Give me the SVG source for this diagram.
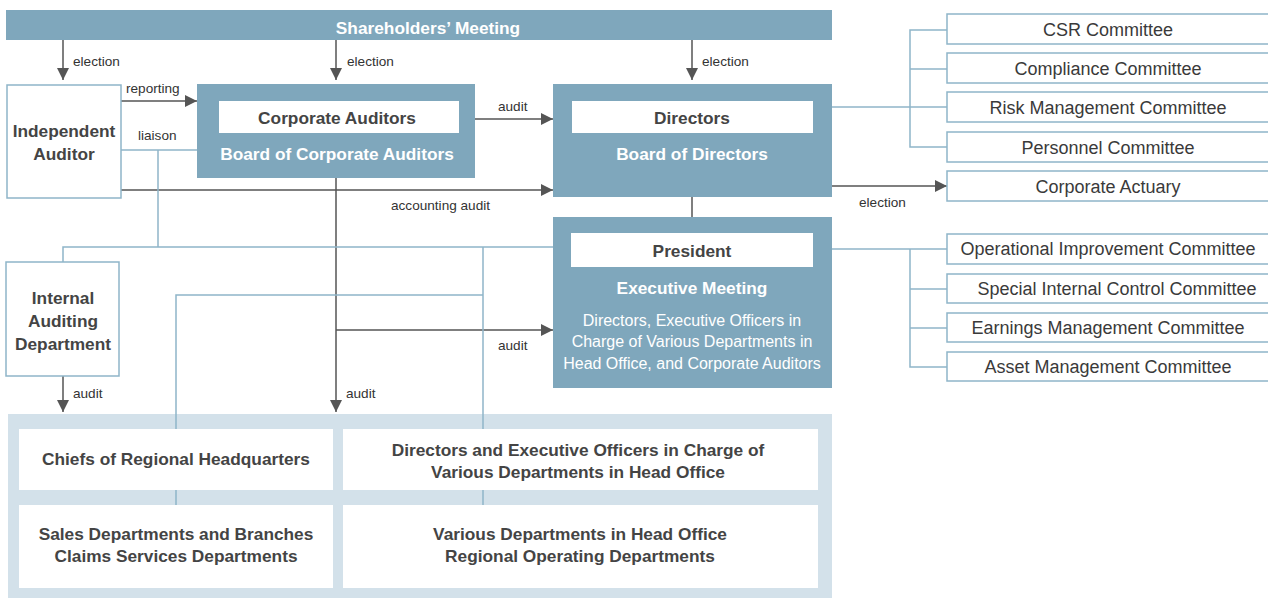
<svg xmlns="http://www.w3.org/2000/svg" width="1268" height="598" viewBox="0 0 1268 598">
<style>
.board{fill:#7fa7bc}
.inner{fill:#ffffff}
.obox{fill:#ffffff;stroke:#8fb5c9;stroke-width:1.5}
.panel{fill:#d3e1ea}
.wbox{fill:#ffffff}
.g{stroke:#555555;stroke-width:1.5;fill:none}
.b{stroke:#8fb5c9;stroke-width:1.5;fill:none}
text{font-family:"Liberation Sans",Arial,sans-serif}
.tw{fill:#ffffff;font-weight:bold;font-size:17.3px;text-anchor:middle}
.td{fill:#444444;font-weight:bold;font-size:17.3px;text-anchor:middle}
.ts{fill:#ffffff;font-size:16px;text-anchor:middle}
.tc{fill:#3a3a3a;font-size:18px;text-anchor:middle}
.tl{fill:#333333;font-size:13.6px}
</style>
<defs>
<marker id="ah" markerUnits="userSpaceOnUse" markerWidth="12" markerHeight="12" refX="12" refY="6" orient="auto" viewBox="0 0 12 12">
<path d="M0,0 L12,6 L0,12 z" fill="#555555"/>
</marker>
</defs>

<g id="shareholders">
<rect class="board" x="6" y="10" width="826" height="30"/>
<text class="tw" x="428" y="34">Shareholders’ Meeting</text>
</g>

<g id="bottom-panel">
<rect class="panel" x="8" y="414" width="824" height="184"/>
</g>

<g id="connectors">
<path class="g" d="M63,40 V80" marker-end="url(#ah)"/>
<path class="g" d="M336,40 V80" marker-end="url(#ah)"/>
<path class="g" d="M692,40 V80" marker-end="url(#ah)"/>
<path class="g" d="M121,101 H197" marker-end="url(#ah)"/>
<path class="g" d="M475,119 H553" marker-end="url(#ah)"/>
<path class="g" d="M121,190 H553" marker-end="url(#ah)"/>
<path class="g" d="M336,178 V412" marker-end="url(#ah)"/>
<path class="g" d="M336,330 H553" marker-end="url(#ah)"/>
<path class="g" d="M63,376 V412" marker-end="url(#ah)"/>
<path class="g" d="M692,197 V217"/>
<path class="g" d="M832,186 H947" marker-end="url(#ah)"/>
<path class="b" d="M121,150 H197"/>
<path class="b" d="M158,150 V247"/>
<path class="b" d="M63,262 V247 H553"/>
<path class="b" d="M483,247 V505"/>
<path class="b" d="M176,505 V295 H483"/>
<path class="b" d="M832,107 H947"/>
<path class="b" d="M947,30 H910 V147 H947"/>
<path class="b" d="M910,69 H947"/>
<path class="b" d="M832,249 H947"/>
<path class="b" d="M910,249 V367 H947"/>
<path class="b" d="M910,289 H947"/>
<path class="b" d="M910,328 H947"/>
<text class="tl" x="73" y="66">election</text>
<text class="tl" x="347" y="66">election</text>
<text class="tl" x="702" y="66">election</text>
<text class="tl" x="126" y="93">reporting</text>
<text class="tl" x="138" y="140">liaison</text>
<text class="tl" x="498" y="111">audit</text>
<text class="tl" x="391" y="210">accounting audit</text>
<text class="tl" x="498" y="350">audit</text>
<text class="tl" x="73" y="398">audit</text>
<text class="tl" x="346" y="398">audit</text>
<text class="tl" x="859" y="207">election</text>
</g>

<g id="independent-auditor">
<rect class="obox" x="7" y="85" width="114" height="113"/>
<text class="td" x="64" y="137">Independent</text>
<text class="td" x="64" y="160">Auditor</text>
</g>

<g id="corporate-auditors">
<rect class="board" x="197" y="84" width="278" height="94"/>
<rect class="inner" x="219" y="101" width="240" height="32"/>
<text class="td" x="337" y="124">Corporate Auditors</text>
<text class="tw" x="337" y="160">Board of Corporate Auditors</text>
</g>

<g id="directors">
<rect class="board" x="553" y="84" width="279" height="113"/>
<rect class="inner" x="572" y="101" width="241" height="32"/>
<text class="td" x="692" y="124">Directors</text>
<text class="tw" x="692" y="160">Board of Directors</text>
</g>

<g id="president">
<rect class="board" x="553" y="217" width="279" height="171"/>
<rect class="inner" x="571" y="233" width="242" height="34"/>
<text class="td" x="692" y="257">President</text>
<text class="tw" x="692" y="294">Executive Meeting</text>
<text class="ts" x="692" y="326">Directors, Executive Officers in</text>
<text class="ts" x="692" y="347">Charge of Various Departments in</text>
<text class="ts" x="692" y="369">Head Office, and Corporate Auditors</text>
</g>

<g id="internal-auditing">
<rect class="obox" x="6" y="262" width="113" height="114"/>
<text class="td" x="63" y="304">Internal</text>
<text class="td" x="63" y="327">Auditing</text>
<text class="td" x="63" y="350">Department</text>
</g>

<g id="chiefs-regional">
<rect class="wbox" x="19" y="429" width="314" height="61"/>
<text class="td" x="176" y="465">Chiefs of Regional Headquarters</text>
</g>
<g id="directors-exec-officers">
<rect class="wbox" x="343" y="429" width="475" height="61"/>
<text class="td" x="578" y="456">Directors and Executive Officers in Charge of</text>
<text class="td" x="578" y="478">Various Departments in Head Office</text>
</g>
<g id="sales-departments">
<rect class="wbox" x="19" y="505" width="314" height="83"/>
<text class="td" x="176" y="540">Sales Departments and Branches</text>
<text class="td" x="176" y="562">Claims Services Departments</text>
</g>
<g id="various-departments">
<rect class="wbox" x="343" y="505" width="475" height="83"/>
<text class="td" x="580" y="540">Various Departments in Head Office</text>
<text class="td" x="580" y="562">Regional Operating Departments</text>
</g>

<g id="csr-committee">
<rect class="obox" x="947" y="14" width="330" height="30"/>
<text class="tc" x="1108" y="36">CSR Committee</text>
</g>
<g id="compliance-committee">
<rect class="obox" x="947" y="53" width="330" height="30"/>
<text class="tc" x="1108" y="75">Compliance Committee</text>
</g>
<g id="risk-committee">
<rect class="obox" x="947" y="92" width="330" height="30"/>
<text class="tc" x="1108" y="114">Risk Management Committee</text>
</g>
<g id="personnel-committee">
<rect class="obox" x="947" y="132" width="330" height="30"/>
<text class="tc" x="1108" y="154">Personnel Committee</text>
</g>
<g id="corporate-actuary">
<rect class="obox" x="947" y="171" width="330" height="30"/>
<text class="tc" x="1108" y="193">Corporate Actuary</text>
</g>
<g id="operational-committee">
<rect class="obox" x="947" y="234" width="330" height="30"/>
<text class="tc" x="1108" y="255">Operational Improvement Committee</text>
</g>
<g id="special-control-committee">
<rect class="obox" x="947" y="274" width="330" height="29"/>
<text class="tc" x="1117" y="295">Special Internal Control Committee</text>
</g>
<g id="earnings-committee">
<rect class="obox" x="947" y="313" width="330" height="29"/>
<text class="tc" x="1108" y="334">Earnings Management Committee</text>
</g>
<g id="asset-committee">
<rect class="obox" x="947" y="352" width="330" height="29"/>
<text class="tc" x="1108" y="373">Asset Management Committee</text>
</g>
</svg>
